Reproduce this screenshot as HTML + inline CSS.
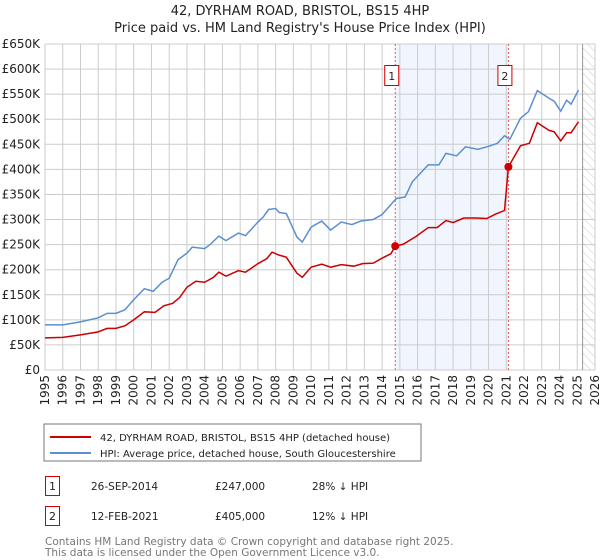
<!DOCTYPE html>
<html><head><meta charset="utf-8">
<style>
body{margin:0;background:#fff;font-family:"DejaVu Sans","Liberation Sans",sans-serif;}
svg{display:block}
</style></head>
<body>
<svg id="chart" width="600" height="560" viewBox="0 0 600 560" xmlns="http://www.w3.org/2000/svg" font-family="DejaVu Sans, Liberation Sans, sans-serif">
<text x="300" y="15" text-anchor="middle" font-size="13" fill="#222">42, DYRHAM ROAD, BRISTOL, BS15 4HP</text>
<text x="300" y="32" text-anchor="middle" font-size="13" fill="#222">Price paid vs. HM Land Registry's House Price Index (HPI)</text>
<defs><pattern id="hatch" width="6" height="6" patternUnits="userSpaceOnUse" patternTransform="rotate(-45)"><line x1="0" y1="0" x2="0" y2="6" stroke="#ccc" stroke-width="1"/></pattern></defs>
<g id="grid"></g>
<g id="marks"></g>
<g id="axes"></g>
<rect x="44" y="424" width="377" height="37" fill="#fff" stroke="#777"/>
<line x1="50" y1="437" x2="91" y2="437" stroke="#cc0000" stroke-width="2"/>
<text x="100" y="441" font-size="10" fill="#222">42, DYRHAM ROAD, BRISTOL, BS15 4HP (detached house)</text>
<line x1="50" y1="453" x2="91" y2="453" stroke="#5b8fd0" stroke-width="2"/>
<text x="100" y="457" font-size="10" fill="#222">HPI: Average price, detached house, South Gloucestershire</text>
<g>
<rect x="45.5" y="476.5" width="14" height="19" fill="#fff" stroke="#cc0000"/>
<text x="52.5" y="490" text-anchor="middle" font-size="11" fill="#222">1</text>
<text x="91" y="490" font-size="10.5" fill="#222">26-SEP-2014</text>
<text x="215" y="490" font-size="10.5" fill="#222">£247,000</text>
<text x="312" y="490" font-size="10.5" fill="#222">28% ↓ HPI</text>
</g>
<g>
<rect x="45.5" y="506.5" width="14" height="19" fill="#fff" stroke="#cc0000"/>
<text x="52.5" y="520" text-anchor="middle" font-size="11" fill="#222">2</text>
<text x="91" y="520" font-size="10.5" fill="#222">12-FEB-2021</text>
<text x="215" y="520" font-size="10.5" fill="#222">£405,000</text>
<text x="312" y="520" font-size="10.5" fill="#222">12% ↓ HPI</text>
</g>
<text x="45" y="545" font-size="10.5" fill="#777">Contains HM Land Registry data © Crown copyright and database right 2025.</text>
<text x="45" y="556" font-size="10.5" fill="#777">This data is licensed under the Open Government Licence v3.0.</text>
</svg>
<script>
const yTicks=[0,50,100,150,200,250,300,350,400,450,500,550,600,650];
const yTickLabels=["£0","£50K","£100K","£150K","£200K","£250K","£300K","£350K","£400K","£450K","£500K","£550K","£600K","£650K"];
const years=[1995,1996,1997,1998,1999,2000,2001,2002,2003,2004,2005,2006,2007,2008,2009,2010,2011,2012,2013,2014,2015,2016,2017,2018,2019,2020,2021,2022,2023,2024,2025,2026];
const hpiT=[1995,1996,1997,1998,1998.5,1999,1999.5,2000,2000.6,2001.1,2001.6,2002,2002.5,2003,2003.3,2004,2004.3,2004.8,2005.2,2005.9,2006.3,2007,2007.3,2007.6,2008,2008.2,2008.6,2009.2,2009.5,2010,2010.6,2011.1,2011.7,2012.3,2012.8,2013.5,2014,2014.5,2014.8,2015.3,2015.7,2016.6,2017.2,2017.6,2018.2,2018.7,2019.4,2020,2020.5,2020.9,2021.2,2021.8,2022.25,2022.75,2023.4,2023.7,2024.07,2024.4,2024.65,2025.07];
const hpiV=[90,90,96,104,113,113,120,140,162,157,175,183,220,233,245,242,250,267,258,273,268,295,305,320,322,314,312,265,255,285,297,279,295,290,297,300,310,330,342,345,375,409,409,432,427,445,440,446,452,467,460,502,515,557,542,536,516,538,530,558];
const propT=[1995,1996,1997,1998,1998.5,1999,1999.5,2000,2000.6,2001.2,2001.7,2002.2,2002.6,2003,2003.5,2004,2004.5,2004.8,2005.2,2005.9,2006.3,2007,2007.5,2007.8,2008.2,2008.6,2009.2,2009.5,2010,2010.6,2011.1,2011.7,2012.4,2012.9,2013.5,2014,2014.5,2014.74,2015.2,2015.9,2016.6,2017.1,2017.6,2018,2018.6,2019.3,2019.9,2020.4,2020.9,2021.12,2021.8,2022.3,2022.75,2023.4,2023.7,2024.07,2024.4,2024.65,2025.07];
const propV=[64,65,70,76,83,83,88,100,116,115,128,133,145,165,177,175,185,195,187,198,195,212,222,235,229,225,193,185,205,211,205,210,207,212,213,223,232,247,251,266,284,284,298,294,303,303,302,311,318,405,447,452,493,478,475,457,473,473,495];
const saleT=[2014.74,2021.12];
const saleV=[247,405];
const saleLabels=["1","2"];
const dataEnd=2025.3;

const X0=45,X1=595,Y0=370,Y1=44;
const xs=t=>X0+(t-1995)*(X1-X0)/31;
const ys=v=>Y0-v*(Y0-Y1)/650;
const NS="http://www.w3.org/2000/svg";
function mk(tag,attrs,parent,txt){const e=document.createElementNS(NS,tag);for(const k in attrs)e.setAttribute(k,attrs[k]);if(txt!==undefined)e.textContent=txt;parent.appendChild(e);return e;}
const grid=document.getElementById('grid'),marks=document.getElementById('marks'),axes=document.getElementById('axes');
const band=mk('rect',{x:xs(saleT[0]),y:Y1,width:xs(saleT[1])-xs(saleT[0]),height:Y0-Y1,fill:'#eef3fc',opacity:0.8},grid);


const hat=mk('rect',{x:xs(dataEnd),y:Y1,width:X1-xs(dataEnd),height:Y0-Y1,fill:'url(#hatch)'},grid);


yTicks.forEach((v,i)=>{
  const l=mk('line',{x1:X0,x2:X1,y1:ys(v),y2:ys(v),stroke:'#ccc','stroke-width':1},grid);
  
  
  const t=mk('text',{x:40,y:ys(v)+4,'text-anchor':'end','font-size':12,fill:'#222'},axes,yTickLabels[i]);
  
  
});
years.forEach(y=>{
  const l=mk('line',{x1:xs(y),x2:xs(y),y1:Y1,y2:Y0,stroke:'#ccc','stroke-width':1},grid);
  
  
  const t=mk('text',{x:0,y:0,'text-anchor':'end','font-size':12,fill:'#222',transform:`translate(${xs(y)+4},375) rotate(-90)`},axes,String(y));
  
  
});
const endLine=mk('line',{x1:xs(dataEnd),x2:xs(dataEnd),y1:Y1,y2:Y0,stroke:'#999','stroke-width':1},grid);


saleT.forEach((t,i)=>{
  const l=mk('line',{x1:xs(t),x2:xs(t),y1:Y1,y2:Y0,stroke:'#e06060','stroke-width':1,'stroke-dasharray':'2,2'},marks);
  
  
  const r=mk('rect',{x:xs(t)-10.5,y:65.5,width:14,height:20,fill:'#fff',stroke:'#cc0000'},marks);
  
  
  const tx=mk('text',{x:xs(t)-3.5,y:80,'text-anchor':'middle','font-size':11,fill:'#222'},marks,saleLabels[i]);
  
  
});
const hp=mk('polyline',{points:hpiT.map((t,i)=>xs(t)+','+ys(hpiV[i])).join(' '),fill:'none',stroke:'#5b8fd0','stroke-width':1.5},marks);


const pp=mk('polyline',{points:propT.map((t,i)=>xs(t)+','+ys(propV[i])).join(' '),fill:'none',stroke:'#cc0000','stroke-width':1.5},marks);


saleT.forEach((t,i)=>{
  const c=mk('circle',{cx:xs(t),cy:ys(saleV[i]),r:4,fill:'#cc0000'},marks);
  
  
});
</script>
</body></html>
